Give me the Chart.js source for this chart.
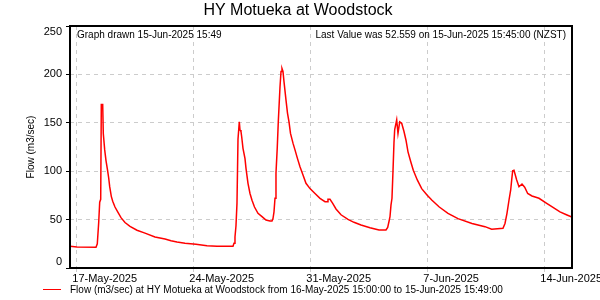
<!DOCTYPE html>
<html>
<head>
<meta charset="utf-8">
<script src="https://cdn.jsdelivr.net/npm/chart.js@4/dist/chart.umd.min.js"></script>
<style>
  html, body { margin: 0; padding: 0; background: #fff; }
  #wrap { width: 600px; height: 300px; }
</style>
</head>
<body>
<div id="wrap"><canvas id="flowChart" width="600" height="300"></canvas></div>
<script>
// ── Datos: días desde 16-May-2025 00:00 y caudal (m3/sec) ──────────────
const flowDays = [
  0.625, 1.044, 2.181, 2.258, 2.342, 2.402, 2.462, 2.498, 2.581, 2.617,
  2.701, 2.779, 2.880, 2.940, 3.000, 3.096, 3.180, 3.317, 3.479, 3.676,
  3.915, 4.215, 4.633, 5.112, 5.710, 6.309, 6.668, 7.026, 7.505, 8.163,
  8.821, 9.420, 10.377, 10.437, 10.496, 10.556, 10.616, 10.676, 10.754, 10.796,
  10.855, 10.897, 10.975, 11.095, 11.155, 11.274, 11.394, 11.514, 11.663, 11.872,
  12.112, 12.351, 12.590, 12.710, 12.770, 12.830, 12.890, 12.949, 13.027, 13.087,
  13.189, 13.249, 13.308, 13.368, 13.428, 13.548, 13.637, 13.727, 13.817, 13.966,
  14.086, 14.236, 14.385, 14.565, 14.744, 14.983, 15.283, 15.582, 15.881, 16.001,
  16.060, 16.180, 16.342, 16.539, 16.838, 17.257, 17.616, 18.035, 18.573, 19.112,
  19.530, 19.632, 19.710, 19.770, 19.829, 19.889, 19.949, 20.009, 20.051, 20.171,
  20.248, 20.350, 20.470, 20.607, 20.727, 20.847, 21.008, 21.164, 21.403, 21.666,
  21.983, 22.282, 22.719, 23.240, 23.838, 24.675, 25.453, 25.854, 26.530, 26.650,
  26.769, 26.889, 26.991, 27.051, 27.110, 27.188, 27.350, 27.487, 27.667, 27.828,
  28.008, 28.265, 28.684, 29.145, 29.522, 29.940, 30.359, 30.656
];
const flowValues = [
  22.5, 21.7, 21.5, 25, 47, 68, 71, 169, 169, 139,
  122, 111, 100, 93, 84, 74, 69, 63, 58, 52,
  47, 43, 39, 36, 32, 30, 28.2, 26.9, 25.5, 24.5,
  23, 22.4, 22.4, 25.5, 32, 43.7, 67, 133, 151, 142.6,
  141, 135.6, 123.6, 113, 103, 87.5, 77, 70, 63, 56.5,
  53, 49.6, 48.5, 48.5, 51, 58, 72, 98, 125, 151,
  187, 203, 206, 203, 192.5, 173.5, 160, 151, 139, 129,
  122, 113, 104.6, 96, 87.5, 82, 77, 72, 68.5, 68.5,
  71, 71, 66.8, 61, 55, 50.3, 47.2, 44.4, 41.6, 39.3,
  39.3, 42, 48, 53, 65, 72, 100, 130, 143, 153,
  139, 151, 149.5, 141, 132, 120, 110, 101, 91, 82,
  75.4, 70, 63, 56.5, 51, 46, 42.7, 40, 41, 46,
  56.5, 70, 80.6, 91, 100.5, 101, 91, 84, 86.8, 83.4,
  77, 74.4, 72, 66.8, 62.7, 58, 54.8, 52.559
];

// ── Ejes ───────────────────────────────────────────────────────────────
const xMinDay = 0.625;    // 16-May-2025 15:00
const xMaxDay = 30.659;   // 15-Jun-2025 15:49
const xTickDays   = [1, 8, 15, 22, 29];
const xTickLabels = ['17-May-2025', '24-May-2025', '31-May-2025', '7-Jun-2025', '14-Jun-2025'];
const yTicks = [0, 50, 100, 150, 200, 250];

const chartTitle = 'HY Motueka at Woodstock';
const yTitle     = 'Flow (m3/sec)';
const drawnText  = 'Graph drawn 15-Jun-2025 15:49';
const lastText   = 'Last Value was 52.559 on 15-Jun-2025 15:45:00 (NZST)';
const legendText = 'Flow (m3/sec) at HY Motueka at Woodstock from 16-May-2025 15:00:00 to 15-Jun-2025 15:49:00';

const FONT = "'Liberation Sans', Arial, sans-serif";
const GRID = '#cccccc';
const RED  = '#ff0000';

// ── Textos, marco y leyenda dibujados a mano ───────────────────────────
const hydroText = {
  id: 'hydroText',
  afterDraw(chart) {
    const { ctx, chartArea: a, scales } = chart;
    ctx.save();

    // marco del área del gráfico
    ctx.strokeStyle = '#000';
    ctx.lineWidth = 2;
    ctx.strokeRect(a.left, a.top, a.right - a.left, a.bottom - a.top);

    ctx.fillStyle = '#000';
    ctx.textBaseline = 'middle';

    // título
    ctx.font = `16px ${FONT}`;
    ctx.textAlign = 'center';
    ctx.fillText(chartTitle, 298, 11);

    // notas dentro del gráfico
    ctx.font = `10px ${FONT}`;
    ctx.textAlign = 'left';
    ctx.fillText(drawnText, a.left + 7, a.top + 9);
    ctx.textAlign = 'right';
    ctx.fillText(lastText, a.right - 6, a.top + 9);

    // leyenda
    ctx.strokeStyle = RED;
    ctx.lineWidth = 1;
    ctx.beginPath();
    ctx.moveTo(43, 289.5);
    ctx.lineTo(61, 289.5);
    ctx.stroke();
    ctx.textAlign = 'left';
    ctx.fillText(legendText, 70, 290);

    // título eje Y
    ctx.save();
    ctx.translate(31, (a.top + a.bottom) / 2);
    ctx.rotate(-Math.PI / 2);
    ctx.textAlign = 'center';
    ctx.fillText(yTitle, 0, 0);
    ctx.restore();

    // etiquetas eje Y (las extremas se recogen hacia adentro)
    ctx.font = `11px ${FONT}`;
    ctx.textAlign = 'right';
    yTicks.forEach(v => {
      let py = scales.y.getPixelForValue(v);
      py = Math.min(Math.max(py, a.top + 6), a.bottom - 6);
      ctx.fillText(String(v), a.left - 8, py);
    });

    // etiquetas eje X
    ctx.textAlign = 'left';
    xTickDays.forEach((d, i) => {
      ctx.fillText(xTickLabels[i], scales.x.getPixelForValue(d) - 4, a.bottom + 11);
    });

    ctx.restore();
  }
};

const canvas = document.getElementById('flowChart');
new Chart(canvas, {
  type: 'line',
  data: {
    datasets: [{
      label: legendText,
      data: flowDays.map((d, i) => ({ x: d, y: flowValues[i] })),
      borderColor: RED,
      borderWidth: 1.5,
      pointRadius: 0,
      tension: 0,
      fill: false,
    }],
  },
  options: {
    responsive: false,
    animation: false,
    devicePixelRatio: 1,
    layout: { padding: { left: 66, right: 28, top: 26, bottom: 28 } },
    plugins: {
      legend: { display: false },
      title: { display: false },
      tooltip: { enabled: false },
    },
    scales: {
      x: {
        type: 'linear',
        min: xMinDay,
        max: xMaxDay,
        afterBuildTicks: s => { s.ticks = xTickDays.map(v => ({ value: v })); },
        ticks: { display: false },
        grid: { color: GRID, tickLength: 4, tickColor: GRID },
        border: { display: false, dash: [4, 4] },
      },
      y: {
        min: 0,
        max: 250,
        afterBuildTicks: s => { s.ticks = yTicks.map(v => ({ value: v })); },
        ticks: { display: false },
        grid: { color: GRID, tickLength: 4, tickColor: '#000' },
        border: { display: false, dash: [4, 4] },
      },
    },
  },
  plugins: [hydroText],
});
</script>
</body>
</html>
